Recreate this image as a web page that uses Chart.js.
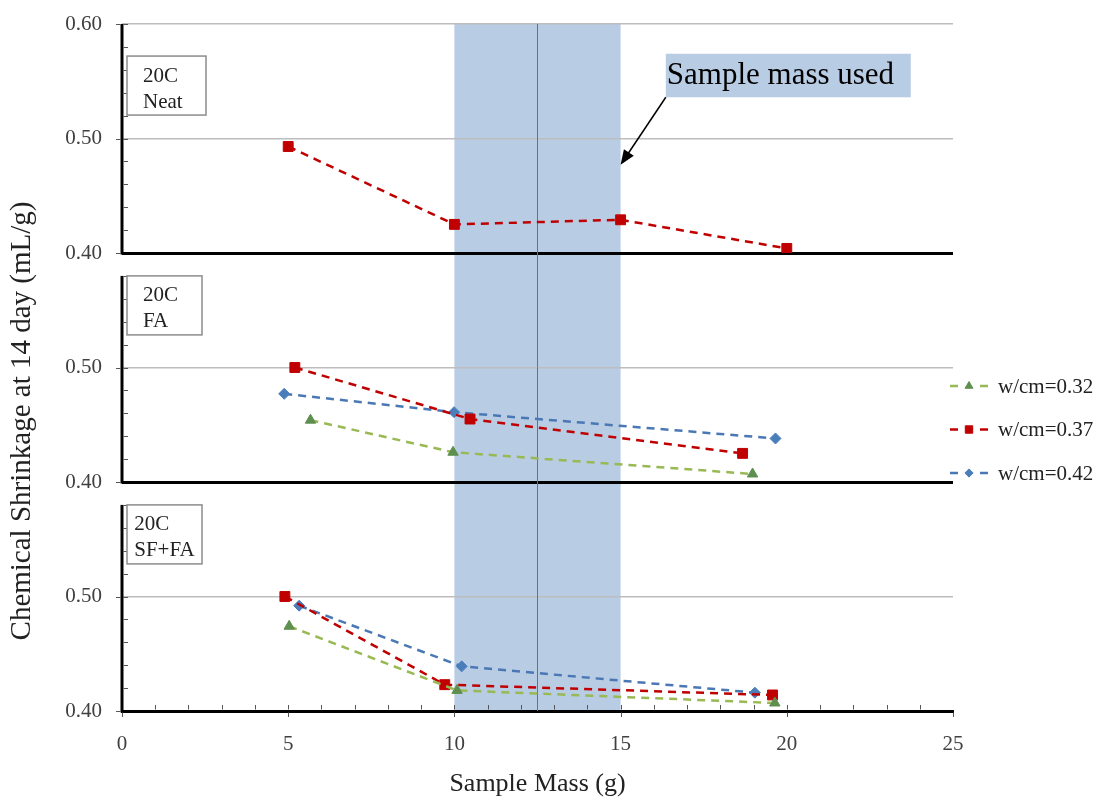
<!DOCTYPE html>
<html>
<head>
<meta charset="utf-8">
<script src="https://cdn.jsdelivr.net/npm/chart.js@4/dist/chart.umd.min.js"></script>
<style>
  html, body { margin: 0; padding: 0; background: #fff; }
  #wrap { width: 1103px; height: 802px; }
</style>
</head>
<body>
<div id="wrap"><canvas id="chart" width="1103" height="802"></canvas></div>
<script>
// x = sample mass (g), y = chemical shrinkage at 14 day (mL/g)
const seriesLabels = ['w/cm=0.32', 'w/cm=0.37', 'w/cm=0.42'];
const panelNames = [['20C', 'Neat'], ['20C', 'FA'], ['20C', 'SF+FA']];
const xTicks = [0, 5, 10, 15, 20, 25];
const yTicks = [0.40, 0.50, 0.60];

// 20C Neat, only w/cm=0.37
const neatMass37 = [5.0, 10.0, 15.0, 20.0];
const neatShrink37 = [0.493, 0.425, 0.429, 0.404];

// 20C FA
const faMass32 = [5.67, 9.96, 18.97];
const faShrink32 = [0.454, 0.426, 0.407];
const faMass37 = [5.2, 10.47, 18.67];
const faShrink37 = [0.500, 0.455, 0.425];
const faMass42 = [4.88, 9.99, 19.66];
const faShrink42 = [0.477, 0.461, 0.438];

// 20C SF+FA
const sfMass32 = [5.03, 10.08, 19.64];
const sfShrink32 = [0.474, 0.418, 0.407];
const sfMass37 = [4.90, 9.71, 19.57];
const sfShrink37 = [0.500, 0.423, 0.414];
const sfMass42 = [5.33, 10.22, 19.04];
const sfShrink42 = [0.492, 0.439, 0.416];

// shaded "sample mass used" range and its centre line
const usedMass = [10, 15];
const usedMassMid = 12.5;

const serif = '"Liberation Serif", "Times New Roman", serif';
const styles = [
  { line: '#98B954', point: '#5E8F4F', shape: 'triangle', r: 6 },
  { line: '#C00000', point: '#C00000', shape: 'rect', r: 7 },
  { line: '#4A78B4', point: '#4A7EBB', shape: 'rectRot', r: 5.5 },
];

function series(s, mass, vals, axis) {
  const st = styles[s];
  return {
    label: seriesLabels[s],
    yAxisID: axis,
    data: mass.map((m, i) => ({ x: m, y: vals[i] })),
    showLine: true,
    borderColor: st.line,
    borderWidth: 2.5,
    borderDash: [8, 6],
    pointStyle: st.shape,
    pointRadius: st.r,
    pointBackgroundColor: st.point,
    pointBorderColor: st.point,
    pointBorderWidth: 1,
  };
}

const datasets = [
  series(1, neatMass37, neatShrink37, 'yTop'),
  series(0, faMass32, faShrink32, 'yMid'),
  series(1, faMass37, faShrink37, 'yMid'),
  series(2, faMass42, faShrink42, 'yMid'),
  series(0, sfMass32, sfShrink32, 'ySf'),
  series(1, sfMass37, sfShrink37, 'ySf'),
  series(2, sfMass42, sfShrink42, 'ySf'),
];

function panelScale(weight, isTop) {
  return {
    type: 'linear',
    position: 'left',
    stack: 'panels',
    stackWeight: 1,
    weight: weight,
    min: 0.4,
    max: 0.6,
    afterFit: (s) => { s.width = 122; s.paddingTop = 0; s.paddingBottom = 0; },
    ticks: {
      stepSize: 0.1,
      padding: 20,
      color: '#404040',
      font: { family: serif, size: 21 },
      callback: (v) => (!isTop && Math.abs(v - 0.6) < 1e-6) ? '' : v.toFixed(2),
    },
    grid: {
      drawTicks: false,
      color: (c) => {
        const v = c.tick ? c.tick.value : 0;
        if (Math.abs(v - 0.4) < 1e-6) return '#000';
        if (Math.abs(v - 0.6) < 1e-6 && !isTop) return 'rgba(0,0,0,0)';
        return '#BDBDBD';
      },
      lineWidth: (c) => (c.tick && Math.abs(c.tick.value - 0.4) < 1e-6) ? 3 : 1.5,
    },
    border: { display: false },
  };
}

// label boxes, annotation and legend placement (layout only)
const panelLabelTop = [0.572, 0.58, 0.58];
const panelLabelWidth = [79, 75, 75];
const noteBox = { x0: 16.36, x1: 23.73, y0: 0.574, y1: 0.536 };
const noteArrowHead = { x: 15, y: 0.477 };

const decor = {
  id: 'decor',
  beforeDraw(chart) {
    const { ctx, scales } = chart;
    const x = scales.x;
    const top = scales.yTop.getPixelForValue(0.6);
    const bot = scales.ySf.getPixelForValue(0.4);
    const x0 = x.getPixelForValue(usedMass[0]);
    const x1 = x.getPixelForValue(usedMass[1]);
    ctx.save();
    ctx.fillStyle = 'rgba(160,187,219,0.75)';
    ctx.fillRect(x0, top, x1 - x0, bot - top);
    ctx.restore();
  },
  beforeDatasetsDraw(chart) {
    const { ctx, scales } = chart;
    const x = scales.x;
    const panels = [scales.yTop, scales.yMid, scales.ySf];
    const left = x.getPixelForValue(0);
    ctx.save();
    // centre line of the band
    const xm = x.getPixelForValue(usedMassMid);
    ctx.strokeStyle = '#5A74A0';
    ctx.lineWidth = 1;
    ctx.beginPath();
    ctx.moveTo(xm, scales.yTop.getPixelForValue(0.6));
    ctx.lineTo(xm, scales.ySf.getPixelForValue(0.4));
    ctx.stroke();
    // left axis of each panel, with tick marks
    panels.forEach((s, i) => {
      const topV = i === 0 ? 0.6 : 0.58;
      ctx.strokeStyle = '#000';
      ctx.lineWidth = 3;
      ctx.beginPath();
      ctx.moveTo(left, s.getPixelForValue(topV));
      ctx.lineTo(left, s.getPixelForValue(0.4) + 1.5);
      ctx.stroke();
      ctx.lineWidth = 1;
      ctx.strokeStyle = '#555';
      for (let k = 1; k * 0.02 <= topV - 0.4 + 1e-6; k++) {
        const py = Math.round(s.getPixelForValue(0.4 + k * 0.02)) + 0.5;
        ctx.beginPath();
        ctx.moveTo(left + 1.5, py);
        ctx.lineTo(left + 6, py);
        ctx.stroke();
      }
      yTicks.forEach((v) => {
        if (v > topV + 1e-6) return;
        const py = Math.round(s.getPixelForValue(v)) + 0.5;
        ctx.beginPath();
        ctx.moveTo(left - 6, py);
        ctx.lineTo(left - 1.5, py);
        ctx.stroke();
      });
    });
    // minor ticks on the mass axis
    const by = scales.ySf.getPixelForValue(0.4);
    for (let m = 1; m < 25; m++) {
      const px = Math.round(x.getPixelForValue(m)) + 0.5;
      ctx.beginPath();
      ctx.moveTo(px, by - 6);
      ctx.lineTo(px, by - 1.5);
      ctx.stroke();
    }
    xTicks.forEach((m) => {
      const px = Math.round(x.getPixelForValue(m)) + 0.5;
      ctx.beginPath();
      ctx.moveTo(px, by + 1.5);
      ctx.lineTo(px, by + 6);
      ctx.stroke();
    });
    ctx.restore();
  },
  afterDraw(chart) {
    const { ctx, scales, chartArea } = chart;
    const x = scales.x;
    const panels = [scales.yTop, scales.yMid, scales.ySf];
    ctx.save();

    // panel label boxes
    ctx.font = '21px ' + serif;
    ctx.textBaseline = 'middle';
    ctx.textAlign = 'left';
    panels.forEach((s, i) => {
      const bx = x.getPixelForValue(0) + 5;
      const by = s.getPixelForValue(panelLabelTop[i]);
      const bw = panelLabelWidth[i];
      const bh = 59;
      ctx.fillStyle = '#fff';
      ctx.fillRect(bx, by, bw, bh);
      ctx.strokeStyle = '#8C8C8C';
      ctx.lineWidth = 1.5;
      ctx.strokeRect(bx, by, bw, bh);
      const tw = Math.max(...panelNames[i].map((t) => ctx.measureText(t).width));
      const pad = Math.max(6, Math.min(16, (bw - tw) / 2));
      ctx.fillStyle = '#222';
      ctx.fillText(panelNames[i][0], bx + pad, by + 20);
      ctx.fillText(panelNames[i][1], bx + pad, by + 46);
    });

    // annotation
    const yT = scales.yTop;
    const nx0 = x.getPixelForValue(noteBox.x0);
    const nx1 = x.getPixelForValue(noteBox.x1);
    const ny0 = yT.getPixelForValue(noteBox.y0);
    const ny1 = yT.getPixelForValue(noteBox.y1);
    ctx.fillStyle = '#B8CCE4';
    ctx.fillRect(nx0, ny0, nx1 - nx0, ny1 - ny0);
    ctx.fillStyle = '#000';
    ctx.font = '31px ' + serif;
    ctx.fillText('Sample mass used', nx0 + 1, (ny0 + ny1) / 2);
    const hx = x.getPixelForValue(noteArrowHead.x);
    const hy = yT.getPixelForValue(noteArrowHead.y);
    const ang = Math.atan2(hy - ny1, hx - nx0);
    ctx.strokeStyle = '#000';
    ctx.lineWidth = 1.5;
    ctx.beginPath();
    ctx.moveTo(nx0, ny1);
    ctx.lineTo(hx - Math.cos(ang) * 10, hy - Math.sin(ang) * 10);
    ctx.stroke();
    ctx.beginPath();
    ctx.moveTo(hx, hy);
    ctx.lineTo(hx - Math.cos(ang - 0.38) * 16, hy - Math.sin(ang - 0.38) * 16);
    ctx.lineTo(hx - Math.cos(ang + 0.38) * 16, hy - Math.sin(ang + 0.38) * 16);
    ctx.closePath();
    ctx.fill();

    // legend
    const lx = chartArea.right;
    ctx.font = '21px ' + serif;
    seriesLabels.forEach((lab, i) => {
      const st = styles[i];
      const ry = scales.yMid.bottom - 96 + i * 43.5;
      ctx.strokeStyle = st.line;
      ctx.lineWidth = 2.5;
      ctx.beginPath();
      ctx.moveTo(lx - 3, ry); ctx.lineTo(lx + 5, ry);
      ctx.moveTo(lx + 27, ry); ctx.lineTo(lx + 35, ry);
      ctx.stroke();
      ctx.fillStyle = st.point;
      ctx.strokeStyle = st.point;
      ctx.lineWidth = 1;
      Chart.helpers.drawPoint(ctx, { pointStyle: st.shape, radius: st.r * 0.75, rotation: 0, borderWidth: 1 }, lx + 16, ry);
      ctx.fillStyle = '#222';
      ctx.fillText(lab, lx + 45, ry + 1);
    });

    // y axis title
    ctx.translate(22, 421);
    ctx.rotate(-Math.PI / 2);
    ctx.textAlign = 'center';
    ctx.font = '29px ' + serif;
    ctx.fillStyle = '#222';
    ctx.fillText('Chemical Shrinkage at 14 day (mL/g)', 0, 0);
    ctx.restore();
  },
};

new Chart(document.getElementById('chart'), {
  type: 'scatter',
  data: { datasets },
  plugins: [decor],
  options: {
    responsive: false,
    animation: false,
    devicePixelRatio: 1,
    layout: { padding: { top: 24, right: 150, bottom: 0, left: 0 } },
    plugins: { legend: { display: false }, tooltip: { enabled: false } },
    scales: {
      x: {
        type: 'linear',
        position: 'bottom',
        min: 0,
        max: 25,
        afterFit: (s) => { s.height = 91; },
        ticks: {
          stepSize: 5,
          padding: 21,
          color: '#404040',
          font: { family: serif, size: 21 },
          callback: (v) => xTicks.includes(v) ? String(v) : '',
        },
        grid: { display: false, drawTicks: false },
        border: { display: true, color: '#000', width: 3 },
        title: {
          display: true,
          text: 'Sample Mass (g)',
          color: '#222',
          font: { family: serif, size: 26 },
          padding: { top: 10, bottom: 2 },
        },
      },
      ySf: panelScale(1, false),
      yMid: panelScale(2, false),
      yTop: panelScale(3, true),
    },
  },
});
</script>
</body>
</html>
